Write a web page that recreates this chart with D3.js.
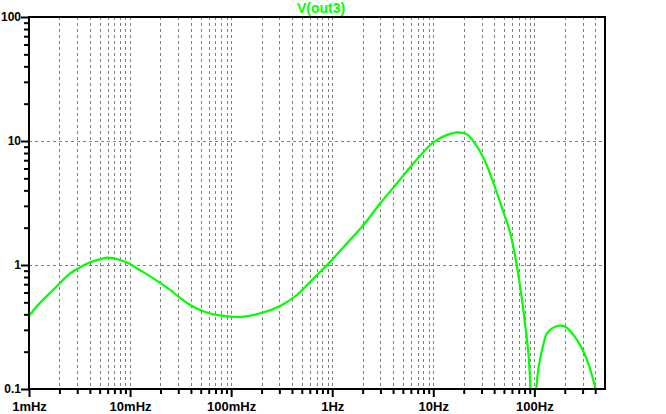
<!DOCTYPE html>
<html><head><meta charset="utf-8">
<script src="https://cdn.jsdelivr.net/npm/d3@7"></script>
<style>
html,body{margin:0;padding:0;background:#fff;}
svg{display:block;}
text{font-family:Arial,"Liberation Sans",sans-serif;}
</style></head>
<body>
<script>
// Data (frequency in Hz, magnitude)
const freqs = [0.001,0.00119,0.00174,0.00255,0.00308,0.00402,0.00505,0.00596,0.00796,0.01,0.01165,0.0170,0.0249,0.0313,0.0393,0.0493,0.0620,0.0778,0.0977,0.1324,0.1937,0.3055,0.447,0.630,0.955,1.40,2.04,2.99,4.37,6.38,9.33,10.9,13.7,17.2,21.6,25.1,31.5,39.5,47.9,57.8,67.4,75.5,81.5,87.9,91.3,97.8,104.7,110.3,123.6,133.6,167.9,202.8,264.8,332.6,401.6,450,500];
const mags  = [0.388,0.463,0.632,0.855,0.941,1.051,1.111,1.145,1.097,1.019,0.941,0.781,0.629,0.542,0.476,0.434,0.406,0.392,0.384,0.383,0.408,0.467,0.573,0.757,1.063,1.496,2.10,3.15,4.56,6.61,9.29,10.2,11.2,11.75,11.3,9.87,7.25,4.56,2.87,1.80,0.969,0.522,0.318,0.182,0.102,0.02,0.102,0.151,0.234,0.281,0.322,0.318,0.248,0.171,0.102,0.07,0.05];
const xMajorTicks = [0.001,0.01,0.1,1,10,100];
const xTickLabels = ["1mHz","10mHz","100mHz","1Hz","10Hz","100Hz"];
const yMajorTicks = [0.1,1,10,100];
const yTickLabels = ["0.1","1","10","100"];
const seriesName = "V(out3)";

const W=666,H=414;
const L=29,R=605,T=17,B=389;
const green="#00ff00";

const svg=d3.select("body").append("svg").attr("width",W).attr("height",H);
const x=d3.scaleLog().domain([0.001,500]).range([L,R]);
const y=d3.scaleLog().domain([0.1,100]).range([B,T]);

const xMinor=[];
xMajorTicks.forEach(d=>{for(let k=2;k<=9;k++){const v=d*k; if(v<500) xMinor.push(v);}});
const yMinor=[];
[0.1,1,10].forEach(d=>{for(let k=2;k<=9;k++) yMinor.push(d*k);});

// grid
const grid=svg.append("g").attr("stroke","#808080").attr("stroke-width",1).attr("stroke-dasharray","3,3");
grid.selectAll("line.vx").data(xMinor.concat(xMajorTicks.filter(d=>d>0.001))).enter().append("line")
  .attr("x1",d=>Math.round(x(d))+0.5).attr("x2",d=>Math.round(x(d))+0.5).attr("y1",T).attr("y2",B);
grid.selectAll("line.hy").data([1,10]).enter().append("line")
  .attr("y1",d=>Math.round(y(d))+0.5).attr("y2",d=>Math.round(y(d))+0.5).attr("x1",L).attr("x2",R);

svg.append("clipPath").attr("id","clip").append("rect").attr("x",L).attr("y",T).attr("width",R-L).attr("height",B-T);

const line=d3.line().x((d,i)=>x(freqs[i])).y((d,i)=>y(mags[i])).curve(d3.curveCatmullRom.alpha(0.5));
svg.append("path").datum(mags).attr("clip-path","url(#clip)")
  .attr("fill","none").attr("stroke",green).attr("stroke-width",2.2).attr("d",line);

// axes
const ax=svg.append("g").attr("transform",`translate(0,${B})`);
ax.call(d3.axisBottom(x).tickValues(xMinor).tickSize(5).tickFormat(""));
const axM=svg.append("g").attr("class","xm").attr("transform",`translate(0,${B})`);
axM.call(d3.axisBottom(x).tickValues(xMajorTicks).tickSize(8).tickPadding(5).tickFormat((d,i)=>xTickLabels[i]));
const ay=svg.append("g").attr("transform",`translate(${L},0)`);
ay.call(d3.axisLeft(y).tickValues(yMinor).tickSize(5).tickFormat(""));
const ayM=svg.append("g").attr("class","ym").attr("transform",`translate(${L},0)`);
ayM.call(d3.axisLeft(y).tickValues(yMajorTicks).tickSize(8).tickPadding(0).tickFormat((d,i)=>yTickLabels[i]));
svg.selectAll(".domain").remove();
svg.selectAll(".tick line").attr("stroke","#000").attr("stroke-width",2);
svg.selectAll(".tick text").attr("fill","#000").attr("font-weight","bold")
  .attr("font-family","Arial, 'Liberation Sans', sans-serif");
axM.selectAll(".tick text").attr("font-size","13px");
ayM.selectAll(".tick text").attr("font-size","12px");

// frame
svg.append("rect").attr("x",L).attr("y",T).attr("width",R-L).attr("height",B-T)
  .attr("fill","none").attr("stroke","#000").attr("stroke-width",2);

// title
svg.append("text").attr("x",321).attr("y",13).attr("text-anchor","middle")
  .attr("fill",green).attr("font-size","14px").attr("font-weight","bold").text(seriesName);
</script>
</body></html>
